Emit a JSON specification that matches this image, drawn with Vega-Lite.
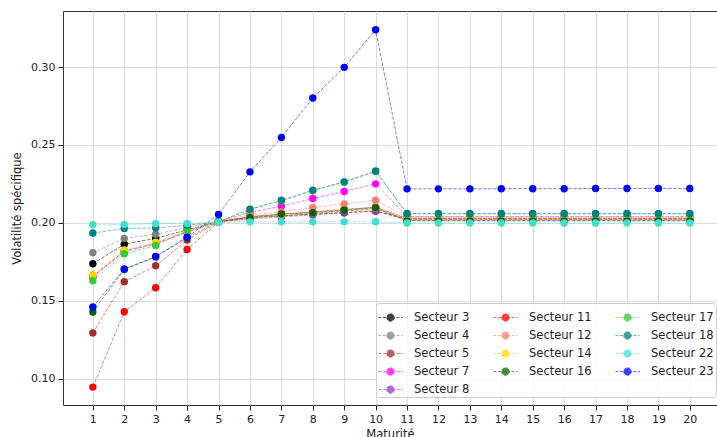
{
"$schema": "https://vega.github.io/schema/vega-lite/v6.json",
"width": 654, "height": 394,
"autosize": "none",
"padding": {"left": 63, "top": 11, "right": 0, "bottom": 32},
"config": {"font": "DejaVu Sans", "view": {"stroke": "#333", "strokeWidth": 1},
  "axis": {"labelFontSize": 11, "titleFontSize": 11.5, "titleFontWeight": "normal", "labelColor": "#222", "titleColor": "#222", "tickColor": "#222", "tickSize": 5, "domain": false, "grid": true, "gridColor": "#dcdcdc", "gridWidth": 1}},
"datasets": {"vol": [
{"s":"Secteur 3","m":1,"v":0.1737},{"s":"Secteur 3","m":2,"v":0.1863},{"s":"Secteur 3","m":3,"v":0.19},{"s":"Secteur 3","m":4,"v":0.1955},{"s":"Secteur 3","m":5,"v":0.2008},{"s":"Secteur 3","m":6,"v":0.2035},{"s":"Secteur 3","m":7,"v":0.2045},{"s":"Secteur 3","m":8,"v":0.2055},{"s":"Secteur 3","m":9,"v":0.2065},{"s":"Secteur 3","m":10,"v":0.2075},{"s":"Secteur 3","m":11,"v":0.2025},{"s":"Secteur 3","m":12,"v":0.2025},{"s":"Secteur 3","m":13,"v":0.2025},{"s":"Secteur 3","m":14,"v":0.2025},{"s":"Secteur 3","m":15,"v":0.2025},{"s":"Secteur 3","m":16,"v":0.2025},{"s":"Secteur 3","m":17,"v":0.2025},{"s":"Secteur 3","m":18,"v":0.2025},{"s":"Secteur 3","m":19,"v":0.2025},{"s":"Secteur 3","m":20,"v":0.2025},
{"s":"Secteur 4","m":1,"v":0.1808},{"s":"Secteur 4","m":2,"v":0.19},{"s":"Secteur 4","m":3,"v":0.1927},{"s":"Secteur 4","m":4,"v":0.197},{"s":"Secteur 4","m":5,"v":0.2008},{"s":"Secteur 4","m":6,"v":0.204},{"s":"Secteur 4","m":7,"v":0.2055},{"s":"Secteur 4","m":8,"v":0.207},{"s":"Secteur 4","m":9,"v":0.2085},{"s":"Secteur 4","m":10,"v":0.21},{"s":"Secteur 4","m":11,"v":0.203},{"s":"Secteur 4","m":12,"v":0.203},{"s":"Secteur 4","m":13,"v":0.203},{"s":"Secteur 4","m":14,"v":0.203},{"s":"Secteur 4","m":15,"v":0.203},{"s":"Secteur 4","m":16,"v":0.203},{"s":"Secteur 4","m":17,"v":0.203},{"s":"Secteur 4","m":18,"v":0.203},{"s":"Secteur 4","m":19,"v":0.203},{"s":"Secteur 4","m":20,"v":0.203},
{"s":"Secteur 5","m":1,"v":0.1293},{"s":"Secteur 5","m":2,"v":0.1622},{"s":"Secteur 5","m":3,"v":0.1724},{"s":"Secteur 5","m":4,"v":0.1889},{"s":"Secteur 5","m":5,"v":0.2005},{"s":"Secteur 5","m":6,"v":0.203},{"s":"Secteur 5","m":7,"v":0.2045},{"s":"Secteur 5","m":8,"v":0.206},{"s":"Secteur 5","m":9,"v":0.2075},{"s":"Secteur 5","m":10,"v":0.209},{"s":"Secteur 5","m":11,"v":0.202},{"s":"Secteur 5","m":12,"v":0.202},{"s":"Secteur 5","m":13,"v":0.202},{"s":"Secteur 5","m":14,"v":0.202},{"s":"Secteur 5","m":15,"v":0.202},{"s":"Secteur 5","m":16,"v":0.202},{"s":"Secteur 5","m":17,"v":0.202},{"s":"Secteur 5","m":18,"v":0.202},{"s":"Secteur 5","m":19,"v":0.202},{"s":"Secteur 5","m":20,"v":0.202},
{"s":"Secteur 7","m":1,"v":0.165},{"s":"Secteur 7","m":2,"v":0.1815},{"s":"Secteur 7","m":3,"v":0.1865},{"s":"Secteur 7","m":4,"v":0.194},{"s":"Secteur 7","m":5,"v":0.201},{"s":"Secteur 7","m":6,"v":0.2066},{"s":"Secteur 7","m":7,"v":0.2107},{"s":"Secteur 7","m":8,"v":0.2156},{"s":"Secteur 7","m":9,"v":0.2201},{"s":"Secteur 7","m":10,"v":0.225},{"s":"Secteur 7","m":11,"v":0.204},{"s":"Secteur 7","m":12,"v":0.204},{"s":"Secteur 7","m":13,"v":0.204},{"s":"Secteur 7","m":14,"v":0.204},{"s":"Secteur 7","m":15,"v":0.204},{"s":"Secteur 7","m":16,"v":0.204},{"s":"Secteur 7","m":17,"v":0.204},{"s":"Secteur 7","m":18,"v":0.204},{"s":"Secteur 7","m":19,"v":0.204},{"s":"Secteur 7","m":20,"v":0.204},
{"s":"Secteur 8","m":1,"v":0.1655},{"s":"Secteur 8","m":2,"v":0.1818},{"s":"Secteur 8","m":3,"v":0.1868},{"s":"Secteur 8","m":4,"v":0.1942},{"s":"Secteur 8","m":5,"v":0.2005},{"s":"Secteur 8","m":6,"v":0.2025},{"s":"Secteur 8","m":7,"v":0.2038},{"s":"Secteur 8","m":8,"v":0.205},{"s":"Secteur 8","m":9,"v":0.2066},{"s":"Secteur 8","m":10,"v":0.2077},{"s":"Secteur 8","m":11,"v":0.2015},{"s":"Secteur 8","m":12,"v":0.2015},{"s":"Secteur 8","m":13,"v":0.2015},{"s":"Secteur 8","m":14,"v":0.2015},{"s":"Secteur 8","m":15,"v":0.2015},{"s":"Secteur 8","m":16,"v":0.2015},{"s":"Secteur 8","m":17,"v":0.2015},{"s":"Secteur 8","m":18,"v":0.2015},{"s":"Secteur 8","m":19,"v":0.2015},{"s":"Secteur 8","m":20,"v":0.2015},
{"s":"Secteur 11","m":1,"v":0.0945},{"s":"Secteur 11","m":2,"v":0.1429},{"s":"Secteur 11","m":3,"v":0.1583},{"s":"Secteur 11","m":4,"v":0.1829},{"s":"Secteur 11","m":5,"v":0.2005},{"s":"Secteur 11","m":6,"v":0.204},{"s":"Secteur 11","m":7,"v":0.2055},{"s":"Secteur 11","m":8,"v":0.207},{"s":"Secteur 11","m":9,"v":0.2085},{"s":"Secteur 11","m":10,"v":0.21},{"s":"Secteur 11","m":11,"v":0.2025},{"s":"Secteur 11","m":12,"v":0.2025},{"s":"Secteur 11","m":13,"v":0.2025},{"s":"Secteur 11","m":14,"v":0.2025},{"s":"Secteur 11","m":15,"v":0.2025},{"s":"Secteur 11","m":16,"v":0.2025},{"s":"Secteur 11","m":17,"v":0.2025},{"s":"Secteur 11","m":18,"v":0.2025},{"s":"Secteur 11","m":19,"v":0.2025},{"s":"Secteur 11","m":20,"v":0.2025},
{"s":"Secteur 12","m":1,"v":0.166},{"s":"Secteur 12","m":2,"v":0.182},{"s":"Secteur 12","m":3,"v":0.187},{"s":"Secteur 12","m":4,"v":0.1945},{"s":"Secteur 12","m":5,"v":0.2008},{"s":"Secteur 12","m":6,"v":0.205},{"s":"Secteur 12","m":7,"v":0.207},{"s":"Secteur 12","m":8,"v":0.2098},{"s":"Secteur 12","m":9,"v":0.2121},{"s":"Secteur 12","m":10,"v":0.2145},{"s":"Secteur 12","m":11,"v":0.2035},{"s":"Secteur 12","m":12,"v":0.2035},{"s":"Secteur 12","m":13,"v":0.2035},{"s":"Secteur 12","m":14,"v":0.2035},{"s":"Secteur 12","m":15,"v":0.2035},{"s":"Secteur 12","m":16,"v":0.2035},{"s":"Secteur 12","m":17,"v":0.2035},{"s":"Secteur 12","m":18,"v":0.2035},{"s":"Secteur 12","m":19,"v":0.2035},{"s":"Secteur 12","m":20,"v":0.2035},
{"s":"Secteur 14","m":1,"v":0.1667},{"s":"Secteur 14","m":2,"v":0.1825},{"s":"Secteur 14","m":3,"v":0.1876},{"s":"Secteur 14","m":4,"v":0.1945},{"s":"Secteur 14","m":5,"v":0.2008},{"s":"Secteur 14","m":6,"v":0.2035},{"s":"Secteur 14","m":7,"v":0.205},{"s":"Secteur 14","m":8,"v":0.2065},{"s":"Secteur 14","m":9,"v":0.208},{"s":"Secteur 14","m":10,"v":0.2095},{"s":"Secteur 14","m":11,"v":0.2022},{"s":"Secteur 14","m":12,"v":0.2022},{"s":"Secteur 14","m":13,"v":0.2022},{"s":"Secteur 14","m":14,"v":0.2022},{"s":"Secteur 14","m":15,"v":0.2022},{"s":"Secteur 14","m":16,"v":0.2022},{"s":"Secteur 14","m":17,"v":0.2022},{"s":"Secteur 14","m":18,"v":0.2022},{"s":"Secteur 14","m":19,"v":0.2022},{"s":"Secteur 14","m":20,"v":0.2022},
{"s":"Secteur 16","m":1,"v":0.1427},{"s":"Secteur 16","m":2,"v":0.17},{"s":"Secteur 16","m":3,"v":0.178},{"s":"Secteur 16","m":4,"v":0.1905},{"s":"Secteur 16","m":5,"v":0.2008},{"s":"Secteur 16","m":6,"v":0.2034},{"s":"Secteur 16","m":7,"v":0.2056},{"s":"Secteur 16","m":8,"v":0.2064},{"s":"Secteur 16","m":9,"v":0.2081},{"s":"Secteur 16","m":10,"v":0.2096},{"s":"Secteur 16","m":11,"v":0.2013},{"s":"Secteur 16","m":12,"v":0.2013},{"s":"Secteur 16","m":13,"v":0.2013},{"s":"Secteur 16","m":14,"v":0.2013},{"s":"Secteur 16","m":15,"v":0.2013},{"s":"Secteur 16","m":16,"v":0.2013},{"s":"Secteur 16","m":17,"v":0.2013},{"s":"Secteur 16","m":18,"v":0.2013},{"s":"Secteur 16","m":19,"v":0.2013},{"s":"Secteur 16","m":20,"v":0.2013},
{"s":"Secteur 17","m":1,"v":0.1628},{"s":"Secteur 17","m":2,"v":0.1801},{"s":"Secteur 17","m":3,"v":0.1855},{"s":"Secteur 17","m":4,"v":0.1949},{"s":"Secteur 17","m":5,"v":0.2008},{"s":"Secteur 17","m":6,"v":0.2085},{"s":"Secteur 17","m":7,"v":0.214},{"s":"Secteur 17","m":8,"v":0.2205},{"s":"Secteur 17","m":9,"v":0.226},{"s":"Secteur 17","m":10,"v":0.233},{"s":"Secteur 17","m":11,"v":0.2057},{"s":"Secteur 17","m":12,"v":0.2057},{"s":"Secteur 17","m":13,"v":0.2057},{"s":"Secteur 17","m":14,"v":0.2057},{"s":"Secteur 17","m":15,"v":0.2057},{"s":"Secteur 17","m":16,"v":0.2057},{"s":"Secteur 17","m":17,"v":0.2057},{"s":"Secteur 17","m":18,"v":0.2057},{"s":"Secteur 17","m":19,"v":0.2057},{"s":"Secteur 17","m":20,"v":0.2057},
{"s":"Secteur 18","m":1,"v":0.1934},{"s":"Secteur 18","m":2,"v":0.1964},{"s":"Secteur 18","m":3,"v":0.1966},{"s":"Secteur 18","m":4,"v":0.1985},{"s":"Secteur 18","m":5,"v":0.2005},{"s":"Secteur 18","m":6,"v":0.2088},{"s":"Secteur 18","m":7,"v":0.2145},{"s":"Secteur 18","m":8,"v":0.221},{"s":"Secteur 18","m":9,"v":0.2263},{"s":"Secteur 18","m":10,"v":0.2333},{"s":"Secteur 18","m":11,"v":0.206},{"s":"Secteur 18","m":12,"v":0.206},{"s":"Secteur 18","m":13,"v":0.206},{"s":"Secteur 18","m":14,"v":0.206},{"s":"Secteur 18","m":15,"v":0.206},{"s":"Secteur 18","m":16,"v":0.206},{"s":"Secteur 18","m":17,"v":0.206},{"s":"Secteur 18","m":18,"v":0.206},{"s":"Secteur 18","m":19,"v":0.206},{"s":"Secteur 18","m":20,"v":0.206},
{"s":"Secteur 22","m":1,"v":0.1987},{"s":"Secteur 22","m":2,"v":0.199},{"s":"Secteur 22","m":3,"v":0.1995},{"s":"Secteur 22","m":4,"v":0.1996},{"s":"Secteur 22","m":5,"v":0.2003},{"s":"Secteur 22","m":6,"v":0.2006},{"s":"Secteur 22","m":7,"v":0.2006},{"s":"Secteur 22","m":8,"v":0.2006},{"s":"Secteur 22","m":9,"v":0.2006},{"s":"Secteur 22","m":10,"v":0.2007},{"s":"Secteur 22","m":11,"v":0.1999},{"s":"Secteur 22","m":12,"v":0.1999},{"s":"Secteur 22","m":13,"v":0.1999},{"s":"Secteur 22","m":14,"v":0.1999},{"s":"Secteur 22","m":15,"v":0.1999},{"s":"Secteur 22","m":16,"v":0.1999},{"s":"Secteur 22","m":17,"v":0.1999},{"s":"Secteur 22","m":18,"v":0.1999},{"s":"Secteur 22","m":19,"v":0.1999},{"s":"Secteur 22","m":20,"v":0.1999},
{"s":"Secteur 23","m":1,"v":0.146},{"s":"Secteur 23","m":2,"v":0.1703},{"s":"Secteur 23","m":3,"v":0.1784},{"s":"Secteur 23","m":4,"v":0.1908},{"s":"Secteur 23","m":5,"v":0.2053},{"s":"Secteur 23","m":6,"v":0.2327},{"s":"Secteur 23","m":7,"v":0.2548},{"s":"Secteur 23","m":8,"v":0.2801},{"s":"Secteur 23","m":9,"v":0.2998},{"s":"Secteur 23","m":10,"v":0.324},{"s":"Secteur 23","m":11,"v":0.2218},{"s":"Secteur 23","m":12,"v":0.2218},{"s":"Secteur 23","m":13,"v":0.2218},{"s":"Secteur 23","m":14,"v":0.2219},{"s":"Secteur 23","m":15,"v":0.2219},{"s":"Secteur 23","m":16,"v":0.2219},{"s":"Secteur 23","m":17,"v":0.222},{"s":"Secteur 23","m":18,"v":0.222},{"s":"Secteur 23","m":19,"v":0.2221},{"s":"Secteur 23","m":20,"v":0.222}
]},
"data": {"name": "vol"},
"encoding": {
  "x": {"field": "m", "type": "quantitative", "scale": {"domain": [0.05, 20.865], "nice": false, "zero": false},
        "axis": {"title": "Maturité", "values": [1,2,3,4,5,6,7,8,9,10,11,12,13,14,15,16,17,18,19,20], "labelPadding": 3, "titlePadding": 4}},
  "y": {"field": "v", "type": "quantitative", "scale": {"domain": [0.083, 0.336], "nice": false, "zero": false},
        "axis": {"title": "Volatilité spécifique", "values": [0.10, 0.15, 0.20, 0.25, 0.30], "format": ".2f", "labelPadding": 3, "titlePadding": 8}},
  "color": {"field": "s", "type": "nominal",
    "scale": {"domain": ["Secteur 3","Secteur 11","Secteur 17","Secteur 4","Secteur 12","Secteur 18","Secteur 5","Secteur 14","Secteur 22","Secteur 7","Secteur 16","Secteur 23","Secteur 8"],
              "range": ["#000000","#ff0000","#32cd32","#808080","#fa8072","#008080","#a52a2a","#ffd700","#40e0d0","#ff00ff","#006400","#0000ff","#9932cc"]},
    "legend": {"orient": "none", "direction": "horizontal", "legendX": 313, "legendY": 292, "columns": 3, "title": null, "gridAlign": "each",
      "symbolType": "M -1 0 L 1 0 M 0.32 0 A 0.32 0.32 0 1 1 -0.32 0 A 0.32 0.32 0 1 1 0.32 0 Z",
      "symbolSize": 576, "symbolStrokeWidth": 0.8, "symbolDash": [3, 1.5],
      "labelFontSize": 11.5, "labelColor": "#222", "labelOffset": 11, "labelLimit": 200,
      "columnPadding": 21, "rowPadding": -1.3, "padding": 2,
      "fillColor": "rgba(255,255,255,0.85)", "strokeColor": "#cccccc", "cornerRadius": 3,
      "encode": {"symbols": {"update": {"fill": {"scale": "color", "field": "value"}, "stroke": {"scale": "color", "field": "value"}, "fillOpacity": {"value": 1}, "strokeOpacity": {"value": 0.75}}}}}
  }
},
"layer": [
  {"mark": {"type": "line", "strokeWidth": 0.7, "strokeDash": [3.5, 1.5], "opacity": 0.75}},
  {"mark": {"type": "point", "filled": true, "size": 55, "opacity": 1}}
]
}
